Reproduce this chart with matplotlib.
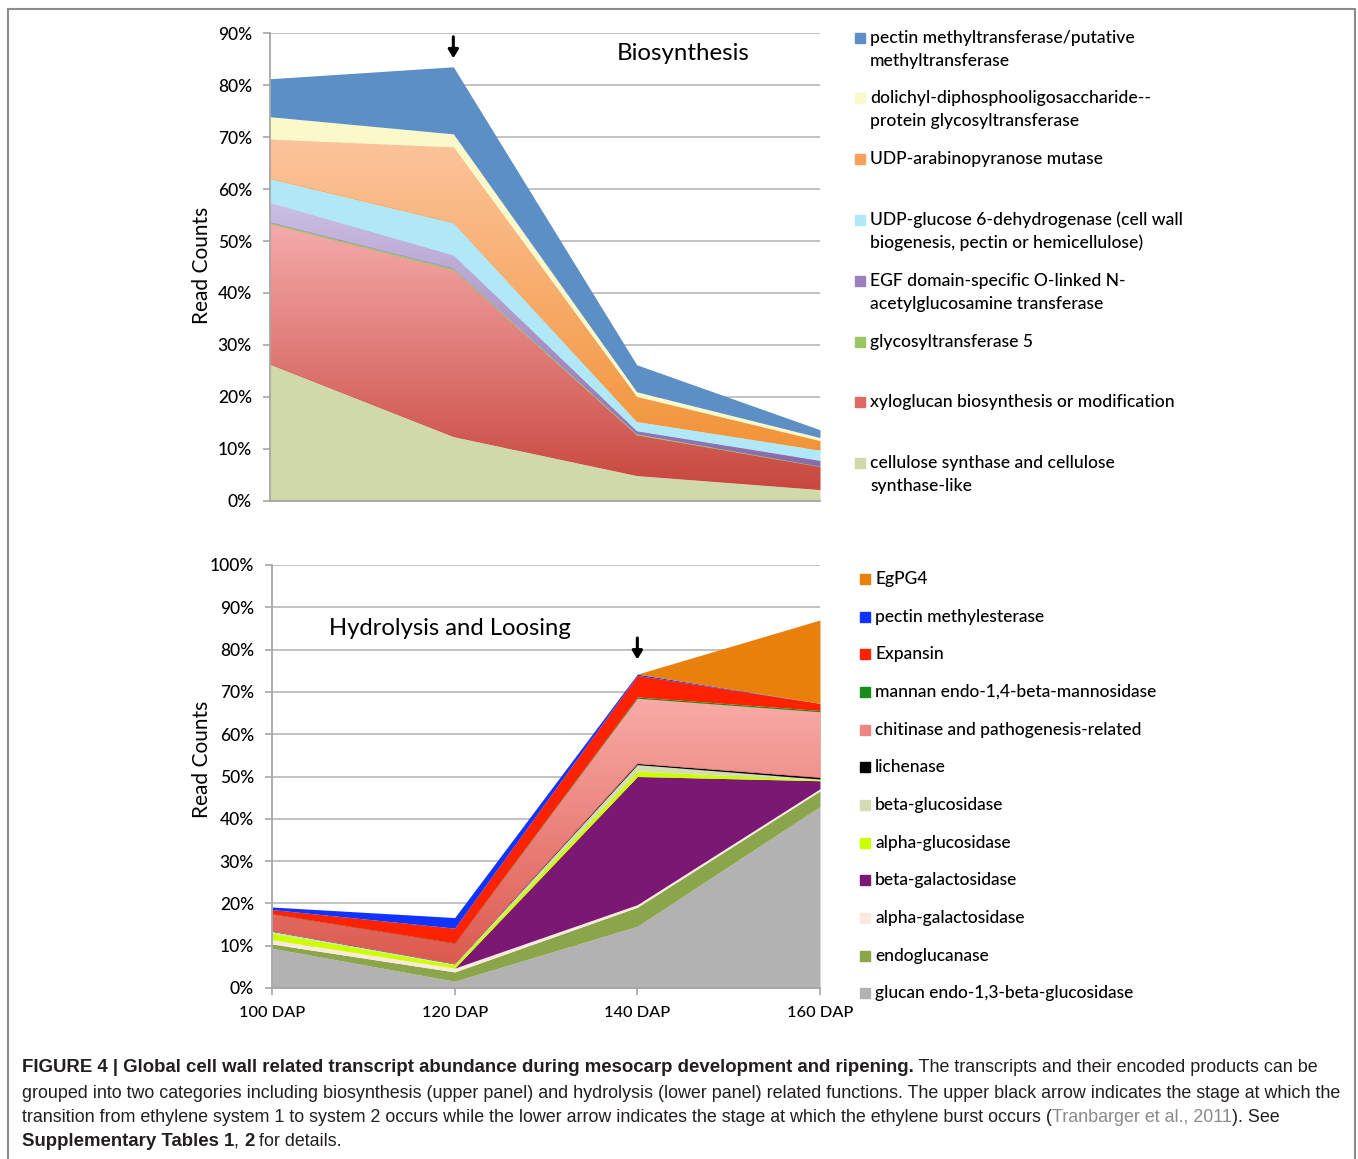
import numpy as np
import matplotlib.pyplot as plt
from matplotlib.colors import LinearSegmentedColormap
from matplotlib.patches import Rectangle

W, H = 1358, 1159

stages = ['100 DAP', '120 DAP', '140 DAP', '160 DAP']

# upper panel, read counts (%) per stage, bottom of the stack first
cellulose = [26.3, 12.4, 4.9, 2.2]
xyloglucan = [27.0, 32.0, 7.8, 4.4]
glyco5 = [0.3, 0.3, 0.2, 0.1]
egf = [3.8, 2.6, 0.6, 1.1]
udp_glucose = [4.6, 6.2, 1.8, 2.0]
udp_arabino = [7.6, 14.6, 4.8, 1.8]
dolichyl = [4.3, 2.5, 0.9, 0.6]
pectin_mt = [7.3, 12.9, 5.2, 1.5]

bio_labels = ['pectin methyltransferase/putative\nmethyltransferase',
              'dolichyl-diphosphooligosaccharide--\nprotein glycosyltransferase',
              'UDP-arabinopyranose mutase',
              'UDP-glucose 6-dehydrogenase (cell wall\nbiogenesis, pectin or hemicellulose)',
              'EGF domain-specific O-linked N-\nacetylglucosamine transferase',
              'glycosyltransferase 5',
              'xyloglucan biosynthesis or modification',
              'cellulose synthase and cellulose\nsynthase-like']

# lower panel, bottom of the stack first
glucan = [9.4, 1.6, 14.6, 42.9]
endoglucanase = [1.0, 2.2, 4.5, 3.7]
alpha_gal = [1.0, 0.9, 0.6, 0.5]
beta_gal = [0.0, 0.0, 30.3, 1.9]
alpha_glu = [1.6, 0.8, 1.3, 0.2]
beta_glu = [0.4, 0.2, 1.5, 0.2]
lichenase = [0.1, 0.1, 0.3, 0.4]
chitinase = [4.0, 4.8, 15.4, 15.5]
mannan = [0.05, 0.05, 0.3, 0.3]
expansin = [1.0, 3.5, 5.1, 1.7]
pme = [0.6, 2.5, 0.3, 0.0]
egpg4 = [0.0, 0.0, 0.0, 19.7]

hyd_labels = ['EgPG4', 'pectin methylesterase', 'Expansin',
              'mannan endo-1,4-beta-mannosidase', 'chitinase and pathogenesis-related',
              'lichenase', 'beta-glucosidase', 'alpha-glucosidase', 'beta-galactosidase',
              'alpha-galactosidase', 'endoglucanase', 'glucan endo-1,3-beta-glucosidase']

plt.rcParams['font.family'] = ['Lato', 'DejaVu Sans']

fig = plt.figure(figsize=(W / 100, H / 100), dpi=100)


def grad_fill(ax, x, lo, hi, c_top, c_bot):
    poly = ax.fill_between(x, lo, hi, color=c_bot, lw=0)
    cmap = LinearSegmentedColormap.from_list('g', [c_bot, c_top])
    img = ax.imshow(np.linspace(0, 1, 256).reshape(-1, 1), cmap=cmap, origin='lower',
                    extent=[x[0], x[-1], min(lo), max(hi)], aspect='auto',
                    interpolation='bilinear', zorder=poly.get_zorder())
    img.set_clip_path(poly.get_paths()[0], transform=ax.transData)


def stack(ax, series):
    x = np.arange(len(stages))
    base = np.zeros(len(stages))
    for vals, col in series:
        top = base + np.array(vals)
        if isinstance(col, tuple):
            grad_fill(ax, x, base, top, col[0], col[1])
        else:
            ax.fill_between(x, base, top, color=col, lw=0)
        base = top


def style_axes(ax, ymax, xlabels):
    ax.set_xlim(0, 3)
    ax.set_ylim(0, ymax)
    ax.set_yticks(np.arange(0, ymax + 1, 10))
    ax.set_yticklabels([f'{v}%' for v in range(0, ymax + 1, 10)])
    ax.grid(axis='y', color='#bdbdbd', lw=1.3)
    ax.set_axisbelow(True)
    for s in ['top', 'right']:
        ax.spines[s].set_visible(False)
    for s in ['left', 'bottom']:
        ax.spines[s].set_color('#a6a6a6')
        ax.spines[s].set_linewidth(1.3)
    ax.tick_params(axis='y', length=5, width=1.2, color='#a6a6a6', pad=8, labelsize=12.5)
    ax.set_xticks(range(len(stages)))
    if xlabels:
        ax.set_xticklabels(stages)
        ax.tick_params(axis='x', length=5, width=1.2, color='#a6a6a6', pad=8, labelsize=11.8)
    else:
        ax.tick_params(axis='x', length=0, labelbottom=False)
    for t in ax.get_xticklabels() + ax.get_yticklabels():
        t.set_fontweight('medium')
    ax.set_ylabel('Read Counts', fontsize=15)


# upper panel
ax1 = fig.add_axes([270 / W, 1 - 501 / H, 550 / W, 468 / H])
stack(ax1, [(cellulose, '#cfd9aa'),
            (xyloglucan, ('#f5abab', '#c8473e')),
            (glyco5, '#9cc566'),
            (egf, ('#cbbfe3', '#8a6bab')),
            (udp_glucose, '#b1e8f7'),
            (udp_arabino, ('#fcc49c', '#f29438')),
            (dolichyl, '#fbf8c9'),
            (pectin_mt, '#5b8fc5')])
style_axes(ax1, 90, False)
ax1.yaxis.set_label_coords(-0.105, 0.504)
ax1.text(0.751, 0.957, 'Biosynthesis', transform=ax1.transAxes, ha='center', va='center',
         fontsize=17.3)
ax1.annotate('', xy=(1, 84.6), xytext=(1, 89.8),
             arrowprops=dict(arrowstyle='-|>,head_width=0.3,head_length=0.5', color='black', lw=2.2))

# lower panel
ax2 = fig.add_axes([272 / W, 1 - 988 / H, 548 / W, 423 / H])
stack(ax2, [(glucan, '#b2b2b2'),
            (endoglucanase, '#8aa54a'),
            (alpha_gal, '#fbe8de'),
            (beta_gal, '#7b1874'),
            (alpha_glu, '#ccff00'),
            (beta_glu, '#d2ddb2'),
            (lichenase, '#000000'),
            (chitinase, ('#f9aba7', '#dc5a4f')),
            (mannan, '#1a8c1a'),
            (expansin, '#ff2200'),
            (pme, '#1133ff'),
            (egpg4, '#e8800b')])
style_axes(ax2, 100, True)
ax2.yaxis.set_label_coords(-0.109, 0.54)
ax2.text(0.325, 0.851, 'Hydrolysis and Loosing', transform=ax2.transAxes, ha='center',
         va='center', fontsize=17.2)
ax2.annotate('', xy=(2, 77.0), xytext=(2, 83.4),
             arrowprops=dict(arrowstyle='-|>,head_width=0.3,head_length=0.5', color='black', lw=2.2))

# legends drawn as colour squares with text
bio_colors = ['#5b8fc5', '#fbf8c9', '#f7a25a', '#b1e8f7', '#9a80bf', '#9cc566', '#de6b63', '#cfd9aa']
bio_y = [38, 98, 159, 220, 281, 342, 402, 463]
for lab, col, y in zip(bio_labels, bio_colors, bio_y):
    fig.patches.append(Rectangle((855 / W, 1 - (y + 5) / H), 10 / W, 10 / H,
                                 transform=fig.transFigure, color=col))
    for k, line in enumerate(lab.split('\n')):
        fig.text(870 / W, 1 - (y + 23 * k) / H, line, fontsize=12.6, fontweight='medium',
                 va='center', ha='left')

hyd_colors = ['#e8800b', '#1133ff', '#ff2200', '#1a8c1a', '#ee8580', '#000000',
              '#d2ddb2', '#ccff00', '#7b1874', '#fbe8de', '#8aa54a', '#b2b2b2']
for i, (lab, col) in enumerate(zip(hyd_labels, hyd_colors)):
    y = 579 + i * 37.65
    fig.patches.append(Rectangle((860 / W, 1 - (y + 5) / H), 10 / W, 10 / H,
                                 transform=fig.transFigure, color=col))
    fig.text(875 / W, 1 - y / H, lab, fontsize=12.5, fontweight='medium', va='center', ha='left')

# frame around the figure panel
fig.patches.append(Rectangle((8 / W, -0.02), 1347 / W, 1.02 - 9 / H, transform=fig.transFigure,
                             fill=False, edgecolor='#8c8c8c', lw=1.5))

# caption, written run by run
renderer = fig.canvas.get_renderer()
cap_size = {'normal': 12.9, 'bold': 13.4}


def text_width(s, weight):
    kw = dict(family='Liberation Sans', fontsize=cap_size[weight], weight=weight)
    a = fig.text(0, 0, 'X' + s + 'X', **kw)
    b = fig.text(0, 0, 'XX', **kw)
    w = a.get_window_extent(renderer).width - b.get_window_extent(renderer).width
    a.remove()
    b.remove()
    return w


caption = [
    (1068, [('FIGURE 4 | Global cell wall related transcript abundance during mesocarp development and ripening.', 'bold', '#231f20'),
            (' The transcripts and their encoded products can be', 'normal', '#231f20')]),
    (1093, [('grouped into two categories including biosynthesis (upper panel) and hydrolysis (lower panel) related functions. The upper black arrow indicates the stage at which the', 'normal', '#231f20')]),
    (1118, [('transition from ethylene system 1 to system 2 occurs while the lower arrow indicates the stage at which the ethylene burst occurs (', 'normal', '#231f20'),
            ('Tranbarger et al., 2011', 'normal', '#8a8a8a'),
            ('). See', 'normal', '#231f20')]),
    (1142, [('Supplementary Tables 1', 'bold', '#231f20'), (', ', 'normal', '#231f20'),
            ('2', 'bold', '#231f20'), (' for details.', 'normal', '#231f20')]),
]
for y, runs in caption:
    x = 22
    for s, weight, col in runs:
        fig.text(x / W, 1 - y / H, s, weight=weight, color=col, va='center', ha='left',
                 family='Liberation Sans', fontsize=cap_size[weight])
        x += text_width(s, weight)

fig.savefig('out.png', dpi=100)
